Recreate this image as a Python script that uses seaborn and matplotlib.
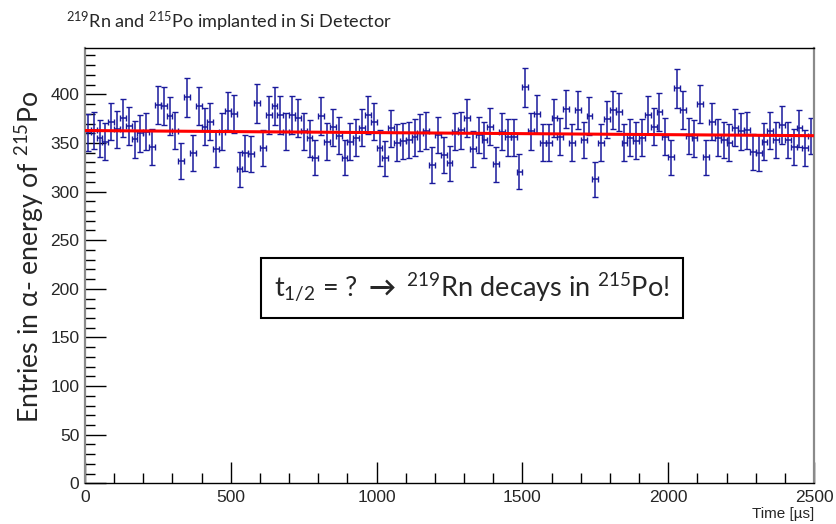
import numpy as np
import pandas as pd
import matplotlib
matplotlib.use("Agg")
import matplotlib.pyplot as plt
import seaborn as sns
from matplotlib.ticker import MultipleLocator

# ---- data ----
bin_width = 20.0          # µs
t_min, t_max = 0, 2500
counts = [
    360.9, 363.3, 354.8, 351.3, 371.9, 364.0, 376.0, 367.4, 353.7, 359.9,
    361.6, 345.5, 389.0, 388.0, 378.0, 362.6, 331.4, 396.9, 340.0, 388.0,
    366.8, 371.9, 343.4, 361.6, 383.2, 379.8, 322.9, 339.3, 338.3, 390.8,
    344.5, 378.8, 388.0, 378.8, 361.6, 378.8, 376.0, 362.3, 354.8, 334.9,
    377.7, 351.3, 366.1, 357.5, 334.9, 351.3, 355.4, 365.7, 378.8, 371.9,
    344.5, 334.2, 365.0, 350.3, 352.0, 353.0, 355.8, 360.6, 362.6, 327.3,
    358.2, 337.3, 329.0, 361.6, 363.3, 376.0, 343.4, 358.2, 353.0, 366.8,
    328.0, 361.6, 355.8, 355.8, 320.5, 407.2, 362.3, 379.8, 350.3, 350.3,
    376.0, 356.5, 384.9, 350.3, 383.9, 353.0, 378.0, 312.6, 350.3, 374.3,
    383.9, 381.8, 350.3, 355.4, 352.4, 355.4, 378.8, 366.8, 382.2, 356.5,
    335.2, 406.2, 383.9, 357.2, 354.8, 390.1, 335.2, 371.9, 355.4, 353.0,
    350.3, 365.7, 362.3, 363.3, 341.0, 339.3, 351.3, 362.6, 353.0, 368.5,
    353.0, 346.2, 365.0, 344.5, 357.2,
]
fit_t = [0, 2500]
fit_y = [362.8, 357.5]

title_txt = r"$^{219}$Rn and $^{215}$Po implanted in Si Detector"
ylabel_txt = r"Entries in α- energy of $^{215}$Po"
xlabel_txt = "Time [µs]"
box_txt = r"t$_{1/2}$ = ? $\mathbf{\rightarrow}$ $^{219}$Rn decays in $^{215}$Po!"
x_ticks = [0, 500, 1000, 1500, 2000, 2500]
y_ticks = [0, 50, 100, 150, 200, 250, 300, 350, 400]

counts = np.array(counts)
n_bins = len(counts)
centers = t_min + bin_width * (np.arange(n_bins) + 0.5)
df = pd.DataFrame({"t": centers, "n": counts, "err": np.sqrt(counts)})
fit_df = pd.DataFrame({"t": fit_t, "y": fit_y})

# ---- style ----
sns.set_style("ticks")
plt.rcParams["font.family"] = ["Lato", "DejaVu Sans"]
plt.rcParams["mathtext.fontset"] = "custom"
plt.rcParams["mathtext.rm"] = "Lato"
plt.rcParams["mathtext.it"] = "Lato:italic"
plt.rcParams["mathtext.bf"] = "Lato:bold"

W, H = 836, 524
fig = plt.figure(figsize=(W / 100, H / 100), dpi=100)
ax = fig.add_axes([85 / W, 1 - 483.3 / H, (814 - 85) / W, (483.3 - 47.7) / H])

ax.errorbar(df["t"], df["n"], yerr=df["err"], xerr=bin_width / 2, fmt="none",
            ecolor="#1a1a9c", elinewidth=1.1, capsize=2.3, capthick=1.0, zorder=2)
sns.lineplot(data=fit_df, x="t", y="y", ax=ax, color="#ff0000", lw=2.2, zorder=3)

ax.set_xlim(t_min, t_max)
ax.set_ylim(0, 448)
ax.set_xlabel("")
ax.set_ylabel("")

tickfont = ["Liberation Sans Narrow", "Liberation Sans", "DejaVu Sans"]
ax.set_xticks(x_ticks, labels=[str(v) for v in x_ticks], fontfamily=tickfont,
              fontsize=12.5)
ax.set_yticks(y_ticks, labels=[str(v) for v in y_ticks], fontfamily=tickfont,
              fontsize=12.5)
ax.xaxis.set_minor_locator(MultipleLocator(100))
ax.yaxis.set_minor_locator(MultipleLocator(10))
ax.tick_params(axis="both", which="major", direction="in", length=15, width=1.0,
               color="black")
ax.tick_params(axis="both", which="minor", direction="in", length=7.5, width=1.0,
               color="black")
ax.tick_params(axis="x", which="both", pad=5)
ax.tick_params(axis="y", which="both", pad=4)

for s in ["left", "right"]:
    ax.spines[s].set_color("#8a8a8a")
    ax.spines[s].set_linewidth(1.6)
for s in ["top", "bottom"]:
    ax.spines[s].set_color("black")
    ax.spines[s].set_linewidth(1.0)

# title, labels
fig.text(66 / W, 1 - 22 / H, title_txt, fontsize=13.1, ha="left", va="center")
fig.text(30 / W, 1 - 257 / H, ylabel_txt, fontsize=19.2, rotation=90,
         ha="center", va="center")
fig.text(814 / W, 1 - 514 / H, xlabel_txt, fontsize=11, ha="right", va="center",
         family=tickfont)

# annotation box
ax.text(1327, 200.8, box_txt, fontsize=19.5, ha="center", va="center", zorder=5,
        bbox=dict(boxstyle="square,pad=0.5", facecolor="white",
                  edgecolor="black", linewidth=1.5))

fig.savefig("out.png", dpi=100)
